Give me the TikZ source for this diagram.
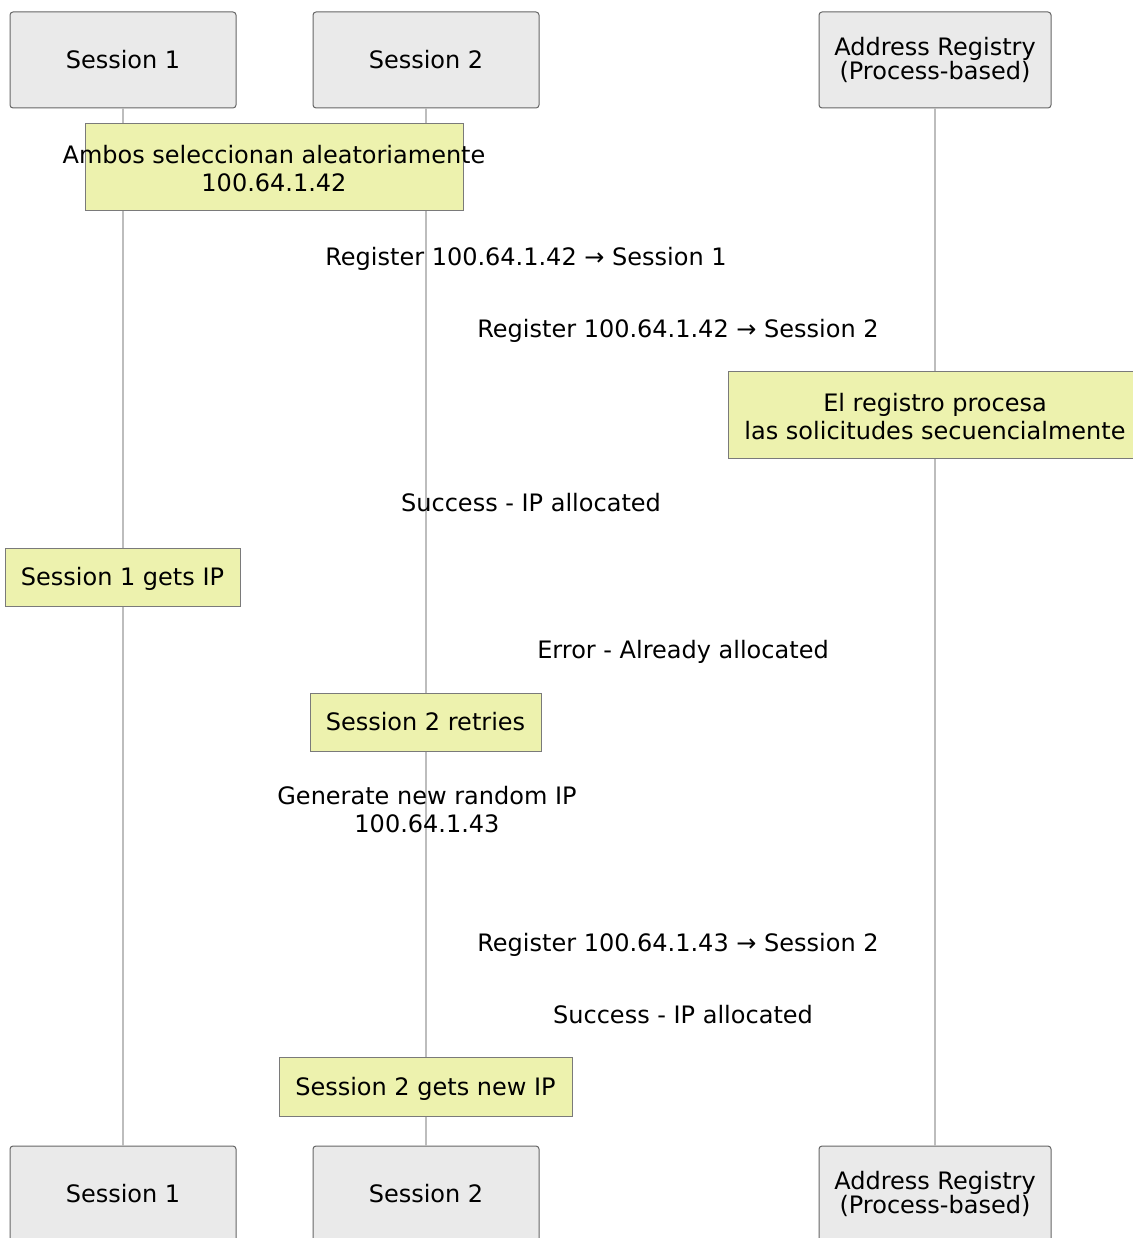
\documentclass[tikz,border=0pt]{standalone}
\usepackage{fontspec}
\setmainfont{DejaVu Sans}
\usetikzlibrary{positioning}
\definecolor{actorfill}{HTML}{EAEAEA}
\definecolor{actorline}{HTML}{666666}
\definecolor{notefill}{HTML}{EDF2AE}
\definecolor{noteline}{HTML}{7A7A7A}
\definecolor{lifegray}{HTML}{BDBDBD}

\begin{document}
\begin{tikzpicture}[x=1pt,y=-1pt,
  every node/.style={font=\fontsize{24}{28}\selectfont, inner sep=0pt},
  oneline/.style={text height=17.5pt, text depth=0pt},
  actor/.style={draw=actorline, fill=actorfill, rounded corners=3pt, line width=1pt,
    minimum width=226pt, minimum height=96pt},
  registry/.style={actor, minimum width=232pt, align=center,
    font=\fontsize{24}{23}\selectfont},
  note/.style={draw=noteline, fill=notefill, line width=1pt},
  msg/.style={oneline},
  lifeline/.style={draw=lifegray, line width=1.2pt}]
  \useasboundingbox (0,0) rectangle (1132,1238);

  \node[actor, oneline] (s1top) at (123,60) {Session 1};
  \node[actor, oneline] (s2top) at (426,60) {Session 2};
  \node[registry] (regtop) at (935,60) {Address Registry\\(Process-based)};
  \node[actor, oneline] (s1bot) at (123,1194) {Session 1};
  \node[actor, oneline] (s2bot) at (426,1194) {Session 2};
  \node[registry] (regbot) at (935,1194) {Address Registry\\(Process-based)};

  \draw[lifeline] (s1top) -- (s1bot);
  \draw[lifeline] (s2top) -- (s2bot);
  \draw[lifeline] (regtop) -- (regbot);

  \node[note, minimum width=378pt, minimum height=87pt] (pick) at (274,167.5) {};
  \node[align=center] (picktxt) at (274,169) {Ambos seleccionan aleatoriamente\\100.64.1.42};

  \node[msg] (reg1) at (526,257) {Register 100.64.1.42 → Session 1};
  \node[msg] (reg2) at (678,329) {Register 100.64.1.42 → Session 2};

  \node[note, minimum width=414pt, minimum height=87pt] (seq) at (935,414.5) {};
  \node[align=center] (seqtxt) at (935,417) {El registro procesa\\las solicitudes secuencialmente};

  \node[msg] (ok1) at (531,503) {Success - IP allocated};
  \node[note, oneline, minimum width=235pt, minimum height=58pt] (got1) at (122.5,577) {Session 1 gets IP};
  \node[msg] (err) at (683,650) {Error - Already allocated};
  \node[note, oneline, minimum width=231pt, minimum height=58pt] (retry) at (425.5,722) {Session 2 retries};
  \node[align=center] (newip) at (427,810) {Generate new random IP\\100.64.1.43};
  \node[msg] (reg3) at (678,943) {Register 100.64.1.43 → Session 2};
  \node[msg] (ok2) at (683,1015) {Success - IP allocated};
  \node[note, oneline, minimum width=293pt, minimum height=59pt] (got2) at (425.5,1086.5) {Session 2 gets new IP};
\end{tikzpicture}
\end{document}
